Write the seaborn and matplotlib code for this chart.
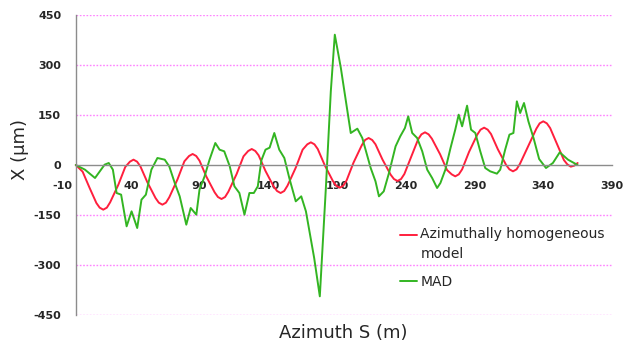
import numpy as np
import pandas as pd
import matplotlib
matplotlib.use('Agg')
from matplotlib import pyplot as plt
import seaborn as sns

# 数据
s_model = [0, 5, 10, 15, 17.4, 20, 22.6, 25, 31, 36, 39.4, 42, 44.6, 47, 52, 58, 60.4, 63,
           65.6, 68, 74, 79, 82.4, 85, 87.6, 90, 95, 101, 103.4, 106, 108.6, 111, 117, 122,
           125.4, 128, 130.6, 133, 138, 144, 146.4, 149, 151.6, 154, 160, 165, 168.4, 171,
           173.6, 176, 181, 187, 189.4, 192, 194.6, 197, 202, 208, 210.4, 213, 215.6, 218,
           223, 229, 231.4, 234, 236.6, 239, 244, 249, 251.4, 254, 256.6, 259, 265, 270,
           273.4, 276, 278.6, 281, 286, 292, 294.4, 297, 299.6, 302, 307, 313, 315.4, 318,
           320.6, 323, 329, 335, 337.4, 340, 342.6, 345, 350, 355, 357.5, 360, 362.5, 365]
x_model = [0, -20, -68, -114, -128, -134, -128, -112, -59, -6, 10, 16, 10, -4, -51, -99, -113,
           -119, -113, -97, -43, 11, 27, 33, 27, 13, -35, -82, -96, -102, -96, -80, -27, 26,
           42, 48, 42, 29, -18, -65, -78, -84, -78, -62, -8, 46, 62, 68, 62, 48, 0, -48, -62,
           -68, -62, -46, 7, 59, 75, 81, 75, 62, 17, -29, -42, -48, -42, -27, 25, 77, 92, 98,
           92, 79, 32, -15, -28, -34, -28, -13, 39, 91, 106, 112, 106, 93, 47, 0, -13, -19,
           -13, 3, 56, 109, 125, 131, 125, 111, 63, 15, 2, -5, -2, 6]

s_mad = [0, 6.7, 14, 21, 24, 27, 29.7, 33, 37, 40.6, 44.7, 47.8, 51, 55, 59.4, 64.7, 68, 72,
         75.6, 80.4, 83.6, 87.7, 90, 93.7, 97.3, 101.5, 104.6, 108, 112, 115.4, 119, 122.7,
         126.3, 129.5, 132.4, 135, 138, 141, 144.4, 148, 151.7, 155.3, 160, 164, 167.4, 173.4,
         177.5, 181.9, 185.5, 188.4, 192.8, 200, 204.8, 208.4, 214.5, 218, 220.5, 224, 227.8,
         232.6, 236, 239.4, 241.8, 244.7, 248.3, 252, 255.6, 259.2, 262.8, 265.2, 268.8,
         272.5, 276, 278.5, 281, 284.6, 287.5, 290.6, 294.2, 297.8, 301.4, 306.3, 308.7,
         312.3, 315.4, 318.3, 320.8, 323.2, 326, 329.2, 333, 337, 342, 347, 352, 358, 365]
x_mad = [0, -14, -39, 1, 6, -14, -84, -89, -184, -139, -189, -104, -89, -14, 21, 16, -4, -54,
         -94, -179, -129, -149, -74, -34, 16, 66, 46, 41, -4, -64, -84, -149, -84, -84, -64,
         14, 46, 52, 96, 46, 21, -39, -109, -94, -139, -279, -394, -69, 221, 391, 291, 96, 109,
         81, -9, -49, -94, -79, -24, 56, 86, 111, 146, 96, 81, 41, -14, -39, -69, -54, -14,
         50, 106, 151, 116, 178, 106, 96, 41, -9, -19, -26, -14, 46, 91, 96, 191, 156, 186,
         131, 80, 18, -9, 6, 38, 16, 0]

labels = ['Azimuthally homogeneous\nmodel', 'MAD']
x_ticks = [-10, 40, 90, 140, 190, 240, 290, 340, 390]
y_ticks = [-450, -300, -150, 0, 150, 300, 450]
grid_y = [-450, -300, -150, 150, 300, 450]

df = pd.concat([
    pd.DataFrame({'S': s_model, 'X': x_model, 'series': labels[0]}),
    pd.DataFrame({'S': s_mad, 'X': x_mad, 'series': labels[1]}),
])

sns.set_theme(style='white')
plt.rcParams['font.family'] = ['DejaVu Sans']

fig = plt.figure(figsize=(6.23, 3.44), dpi=100)
ax = fig.add_axes([62 / 623, 1 - 315 / 344, 550 / 623, 300 / 344])

# 粉色虚线网格
ax.hlines(grid_y, 0, 390, colors='#ff80ff', linestyles=(0, (1.2, 1.2)), linewidth=1.0, zorder=0)

sns.lineplot(data=df, x='S', y='X', hue='series', palette=['#ff1f3d', '#33b522'],
             estimator=None, sort=True, linewidth=1.4, ax=ax)

ax.set_xlim(-10, 390)
ax.set_ylim(-450, 450)
ax.tick_params(axis='x', direction='out', length=3.5, width=0.8, color='#888888',
               labelsize=8, pad=8)
ax.tick_params(axis='y', direction='out', length=3.5, width=0.8, color='#888888',
               labelsize=8, pad=7)
ax.set_xticks(x_ticks, labels=[str(v) for v in x_ticks])
ax.set_yticks(y_ticks, labels=[str(v) for v in y_ticks])

ax.spines['top'].set_visible(False)
ax.spines['right'].set_visible(False)
ax.spines['left'].set_position(('data', 0))
ax.spines['bottom'].set_position(('data', 0))
ax.spines['bottom'].set_bounds(0, 390)
for sp in ['left', 'bottom']:
    ax.spines[sp].set_color('#8c8c8c')
    ax.spines[sp].set_linewidth(1.0)

ax.set_xlabel('Azimuth S (m)', fontsize=13)
ax.set_ylabel('X (µm)', fontsize=13)
ax.xaxis.set_label_coords(0.511, -0.03)
ax.yaxis.set_label_coords(-0.06, 0.55)

leg = ax.legend(loc='upper left', bbox_to_anchor=(0.615, 0.292), frameon=False,
                fontsize=10, handlelength=1.2, handletextpad=0.25, labelspacing=1.0,
                borderpad=0, borderaxespad=0)
for t in leg.get_texts():
    t.set_linespacing(1.55)
for line in leg.get_lines():
    line.set_linewidth(1.4)
# 图例红线对齐第一行文字
l0 = leg.get_lines()[0]
l0.set_ydata(np.asarray(l0.get_ydata()) + 7.5)

fig.canvas.draw()
for lab in ax.get_xticklabels() + ax.get_yticklabels():
    lab.set_fontweight('bold')

fig.savefig('out.png', dpi=100)
